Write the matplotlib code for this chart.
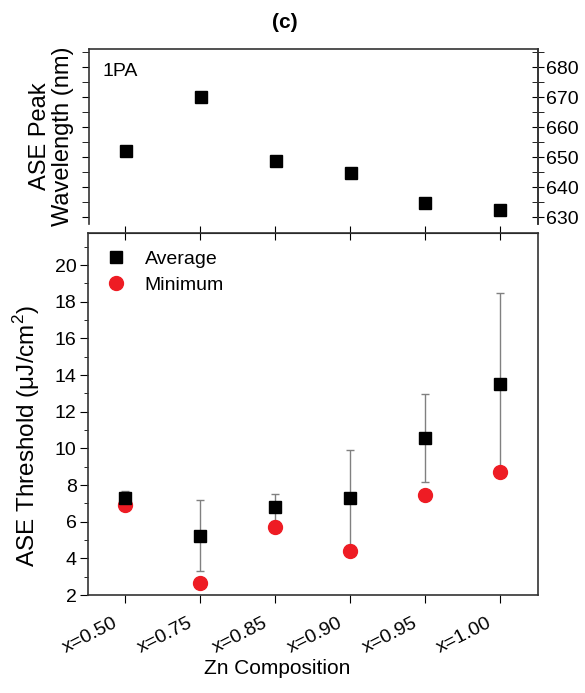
import numpy as np
import matplotlib
matplotlib.use("Agg")
import matplotlib.pyplot as plt
import matplotlib.transforms as mtransforms
from matplotlib.ticker import MultipleLocator

plt.rcParams['font.family'] = ['Liberation Sans', 'DejaVu Sans']

### data
compositions = ['x=0.50', 'x=0.75', 'x=0.85', 'x=0.90', 'x=0.95', 'x=1.00']
peak_wavelength = [652.0, 669.9, 648.8, 644.8, 634.6, 632.3]
avg_threshold = [7.27, 5.24, 6.78, 7.31, 10.55, 13.51]
avg_err = [0.40, 1.95, 0.75, 2.60, 2.41, 4.95]
min_threshold = [6.91, 2.64, 5.73, 4.40, 7.46, 8.69]

xs = np.arange(len(compositions))

fig = plt.figure(figsize=(5.85, 6.93), dpi=100)
axTop = fig.add_axes([0.152, 0.6768, 0.767, 0.2525])
axBot = fig.add_axes([0.150, 0.1414, 0.769, 0.5224])

########################################################################
### top panel: peak wavelength
axTop.plot(xs, peak_wavelength, 's', color='black', markersize=9)
axTop.set_xlim(-0.5, 5.5)
axTop.set_ylim(627.7, 686)
axTop.spines['bottom'].set_visible(False)
axTop.set_xticks([])
axTop.yaxis.set_major_locator(MultipleLocator(10))
axTop.yaxis.set_minor_locator(MultipleLocator(5))
axTop.tick_params(axis='y', which='both', left=True, right=False,
                  labelleft=False, direction='out', length=5)
secRight = axTop.secondary_yaxis('right')
secRight.yaxis.set_major_locator(MultipleLocator(10))
secRight.yaxis.set_minor_locator(MultipleLocator(5))
secRight.tick_params(axis='y', which='both', direction='inout', length=8,
                     labelsize=14, pad=2)
secRight.spines['right'].set_linewidth(1.2)
secRight.spines['right'].set_color('#333333')
axTop.set_ylabel('ASE Peak\nWavelength (nm)', fontsize=17, linespacing=1.05)
axTop.yaxis.set_label_coords(-0.033, 0.5)
axTop.text(0.03, 0.92, '1PA', transform=axTop.transAxes, fontsize=14,
           va='top', ha='left')

########################################################################
### bottom panel: ASE threshold
axBot.errorbar(xs, avg_threshold, yerr=avg_err, fmt='none', ecolor='#808080',
               elinewidth=1, capsize=3, capthick=1, zorder=1)
axBot.plot(xs, avg_threshold, 's', color='black', markersize=9,
           label='Average', zorder=3)
axBot.plot(xs, min_threshold, 'o', color='#ee1c24', markersize=10,
           label='Minimum', zorder=2)
axBot.set_xlim(-0.5, 5.5)
axBot.set_ylim(2, 21.75)
axBot.yaxis.set_major_locator(MultipleLocator(2))
axBot.yaxis.set_minor_locator(MultipleLocator(1))
axBot.tick_params(axis='y', which='major', length=6, direction='out', labelsize=14, pad=2)
axBot.tick_params(axis='y', which='minor', length=3, direction='out')
axBot.tick_params(axis='x', which='major', length=6, direction='out', pad=8)
axBot.set_xticks(xs)
axBot.set_xticklabels(compositions, rotation=27, ha='right',
                      rotation_mode='anchor', fontsize=14)
### nudge the slanted labels left, as in the original
shift = mtransforms.ScaledTranslation(-13/100., 0, fig.dpi_scale_trans)
for lab in axBot.get_xticklabels():
  lab.set_transform(lab.get_transform() + shift)
secTop = axBot.secondary_xaxis('top')
secTop.set_xticks(xs)
secTop.tick_params(axis='x', direction='inout', length=10, labeltop=False)
axBot.set_xlabel('Zn Composition', fontsize=15)
axBot.xaxis.set_label_coords(0.422, -0.176)
axBot.set_ylabel(r'ASE Threshold ($\mathregular{\mu}$J/cm$^\mathregular{2}$)',
                 fontsize=17.5)
axBot.yaxis.set_label_coords(-0.102, 0.44)
axBot.legend(loc='upper left', bbox_to_anchor=(0.002, 0.974), frameon=False,
             fontsize=14, handletextpad=0.48, borderaxespad=0, labelspacing=0.45)

for ax in (axTop, axBot):
  for sp in ax.spines.values():
    sp.set_linewidth(1.2)
    sp.set_color('#333333')

fig.text(0.487, 0.968, '(c)', fontsize=15, fontweight='bold', ha='center', va='center')

fig.savefig('out.png', dpi=100)
